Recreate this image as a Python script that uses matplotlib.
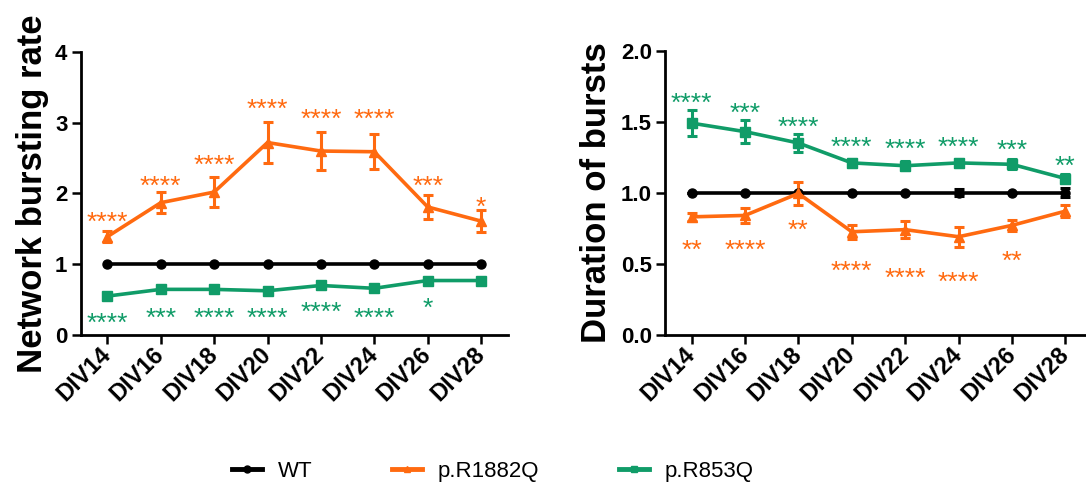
import numpy as np
import matplotlib
matplotlib.use("Agg")
import matplotlib.pyplot as plt
from matplotlib.lines import Line2D

plt.rcParams['font.family'] = ['Liberation Sans', 'DejaVu Sans']

# Data
days = ['DIV14', 'DIV16', 'DIV18', 'DIV20', 'DIV22', 'DIV24', 'DIV26', 'DIV28']

# Network bursting rate (normalised to WT)
nbr_wt = [1.0, 1.0, 1.0, 1.0, 1.0, 1.0, 1.0, 1.0]
nbr_r1882q = [1.39, 1.87, 2.02, 2.72, 2.60, 2.59, 1.81, 1.61]
nbr_r1882q_err = [0.08, 0.15, 0.21, 0.285, 0.265, 0.25, 0.17, 0.16]
nbr_r853q = [0.55, 0.645, 0.645, 0.625, 0.70, 0.66, 0.77, 0.77]
nbr_r853q_err = [0.03, 0.03, 0.03, 0.03, 0.03, 0.03, 0.03, 0.03]
nbr_r1882q_sig = ['****', '****', '****', '****', '****', '****', '***', '*']
nbr_r1882q_sig_y = [1.70, 2.21, 2.50, 3.30, 3.15, 3.15, 2.21, 1.91]
nbr_r853q_sig = ['****', '***', '****', '****', '****', '****', '*', '']
nbr_r853q_sig_y = [0.27, 0.34, 0.34, 0.34, 0.42, 0.34, 0.49, 0.0]

# Duration of bursts (normalised to WT)
dur_wt = [1.0, 1.0, 1.0, 1.0, 1.0, 1.0, 1.0, 1.0]
dur_wt_err = [0, 0, 0, 0, 0, 0.025, 0, 0.03]
dur_r1882q = [0.83, 0.84, 0.995, 0.725, 0.74, 0.69, 0.77, 0.87]
dur_r1882q_err = [0.03, 0.05, 0.08, 0.05, 0.06, 0.07, 0.04, 0.04]
dur_r853q = [1.49, 1.43, 1.35, 1.21, 1.19, 1.21, 1.20, 1.10]
dur_r853q_err = [0.094, 0.08, 0.065, 0.03, 0.03, 0.03, 0.035, 0.03]
dur_r853q_sig = ['****', '***', '****', '****', '****', '****', '***', '**']
dur_r853q_sig_y = [1.68, 1.61, 1.51, 1.37, 1.357, 1.37, 1.35, 1.24]
dur_r1882q_sig = ['**', '****', '**', '****', '****', '****', '**', '']
dur_r1882q_sig_y = [0.65, 0.65, 0.79, 0.50, 0.45, 0.425, 0.57, 0.0]

BLACK = '#000000'
ORANGE = '#FF6A10'
GREEN = '#109C68'
STAR_SIZE = 19

x = np.arange(len(days))

fig = plt.figure(figsize=(10.86, 4.88), dpi=100)
ax1 = fig.add_axes([0.0743, 0.3135, 0.3932, 0.580])
ax2 = fig.add_axes([0.6123, 0.3141, 0.3932, 0.5820])


def draw_series(ax, y, err, color, marker, ms):
    ax.errorbar(x, y, yerr=err, color=color, marker=marker, markersize=ms,
                linewidth=2.6, elinewidth=2.2, capsize=3.3, capthick=2.2,
                clip_on=False, zorder=3)


def stars(ax, labels, ys, color):
    for xi, lab, yi in zip(x, labels, ys):
        if lab:
            ax.annotate(lab, (xi, yi), xytext=(0, -0.57 * STAR_SIZE),
                        textcoords='offset points', ha='center', va='baseline',
                        fontsize=STAR_SIZE, color=color, zorder=4)


def style_axes(ax):
    for side in ['top', 'right']:
        ax.spines[side].set_visible(False)
    for side in ['left', 'bottom']:
        ax.spines[side].set_linewidth(2.0)
    ax.tick_params(axis='both', width=1.8, length=6.5, pad=3,
                   labelsize=16)
    ax.tick_params(axis='x', labelsize=17, pad=5)
    ax.set_xticks(x)
    ax.set_xticklabels(days, rotation=45, ha='right', va='center',
                       rotation_mode='anchor', fontweight='bold')
    for lab in ax.get_yticklabels():
        lab.set_fontweight('bold')
    ax.set_xlim(-0.5, 7.5)


# Left panel
draw_series(ax1, nbr_wt, None, BLACK, 'o', 6.5)
draw_series(ax1, nbr_r1882q, nbr_r1882q_err, ORANGE, '^', 7.5)
draw_series(ax1, nbr_r853q, nbr_r853q_err, GREEN, 's', 7.5)
stars(ax1, nbr_r1882q_sig, nbr_r1882q_sig_y, ORANGE)
stars(ax1, nbr_r853q_sig, nbr_r853q_sig_y, GREEN)
ax1.set_ylim(0, 4)
ax1.set_yticks([0, 1, 2, 3, 4])
style_axes(ax1)
ax1.set_ylabel('Network bursting rate', fontsize=25, fontweight='bold')
ax1.yaxis.set_label_coords(-0.075, 0.5)

# Right panel
draw_series(ax2, dur_wt, dur_wt_err, BLACK, 'o', 6.5)
draw_series(ax2, dur_r1882q, dur_r1882q_err, ORANGE, '^', 7.5)
draw_series(ax2, dur_r853q, dur_r853q_err, GREEN, 's', 7.5)
stars(ax2, dur_r853q_sig, dur_r853q_sig_y, GREEN)
stars(ax2, dur_r1882q_sig, dur_r1882q_sig_y, ORANGE)
ax2.set_ylim(0, 2.0)
ax2.set_yticks([0, 0.5, 1.0, 1.5, 2.0])
ax2.set_yticklabels(['0.0', '0.5', '1.0', '1.5', '2.0'])
style_axes(ax2)
ax2.set_ylabel('Duration of bursts', fontsize=25, fontweight='bold')
ax2.yaxis.set_label_coords(-0.122, 0.5)

# Shared legend
handles = [
    Line2D([], [], color=BLACK, marker='o', markersize=5, linewidth=3.5),
    Line2D([], [], color=ORANGE, marker='^', markersize=5, linewidth=3.5),
    Line2D([], [], color=GREEN, marker='s', markersize=5, linewidth=3.5),
]
fig.legend(handles, ['WT', 'p.R1882Q', 'p.R853Q'], loc='center',
           bbox_to_anchor=(493 / 1086, 1 - 471.7 / 488), ncol=3,
           frameon=False, fontsize=16, handlelength=1.35,
           handletextpad=0.7, columnspacing=3.6)

fig.savefig('out.png', dpi=100)
